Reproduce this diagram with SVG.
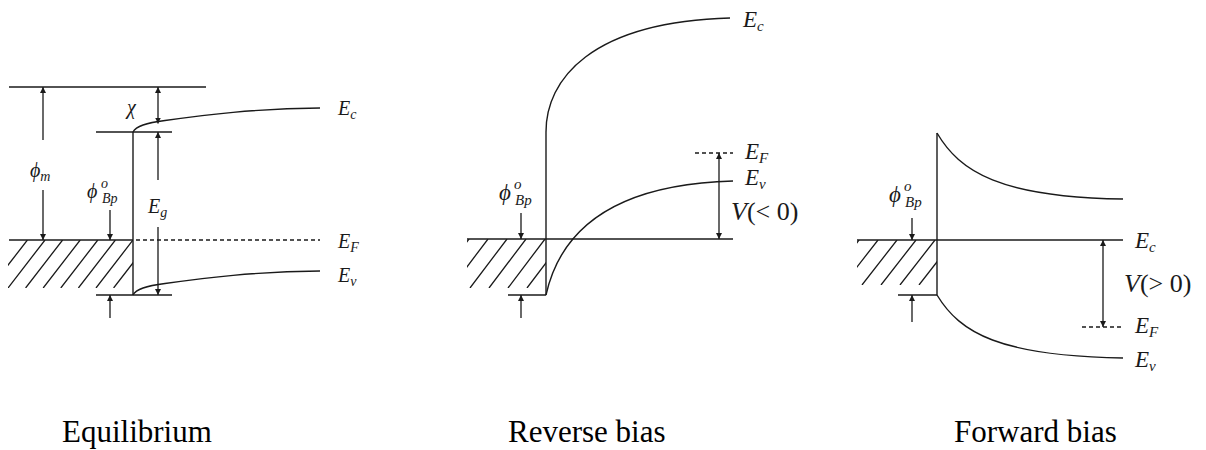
<svg xmlns="http://www.w3.org/2000/svg" width="1206" height="450" viewBox="0 0 1206 450">
<style>
.ln{stroke:#1a1a1a;stroke-width:1.4;fill:none}
.ds{stroke:#1a1a1a;stroke-width:1.4;fill:none;stroke-dasharray:4 3}
.ht{stroke:#1a1a1a;stroke-width:1.3;fill:none}
.ar{stroke:#1a1a1a;stroke-width:1.3;fill:none;marker-end:url(#ah)}
.ar2{stroke:#1a1a1a;stroke-width:1.3;fill:none;marker-end:url(#ah);marker-start:url(#ah)}
.m{font-family:"Liberation Serif","DejaVu Serif",serif;font-style:italic;fill:#1a1a1a;font-size:20px}
.s{font-family:"Liberation Serif","DejaVu Serif",serif;font-style:italic;fill:#1a1a1a;font-size:14px}
.m2{font-family:"Liberation Serif","DejaVu Serif",serif;font-style:italic;fill:#1a1a1a;font-size:23px}
.s2{font-family:"Liberation Serif","DejaVu Serif",serif;font-style:italic;fill:#1a1a1a;font-size:15px}
.up{font-family:"Liberation Serif","DejaVu Serif",serif;fill:#1a1a1a;font-size:26px}
.cap{font-family:"Liberation Serif","Times New Roman",serif;fill:#000;font-size:31px}
</style>
<defs>
<marker id="ah" markerUnits="userSpaceOnUse" markerWidth="8" markerHeight="8" refX="6" refY="3" orient="auto-start-reverse">
<path d="M0,0 L6,3 L0,6 z" fill="#1a1a1a"/>
</marker>
<clipPath id="c1"><rect x="8" y="240" width="125" height="48"/></clipPath>
<clipPath id="c2"><rect x="467" y="239" width="79" height="49"/></clipPath>
<clipPath id="c3"><rect x="857" y="240" width="80" height="45"/></clipPath>
</defs>
<rect width="1206" height="450" fill="#fff"/>

<g id="equilibrium">
<line class="ln" x1="9" y1="87" x2="206" y2="87"/>
<line class="ln" x1="96" y1="132" x2="172" y2="132"/>
<line class="ln" x1="96" y1="295" x2="172" y2="295"/>
<line class="ln" x1="133" y1="132" x2="133" y2="295"/>
<line class="ln" x1="9" y1="240" x2="133" y2="240"/>
<line class="ds" x1="136" y1="240" x2="320" y2="240"/>
<path class="ln" d="M133,132 C136,126 146,123 165,120.5 C205,115 255,108.5 320,108"/>
<path class="ln" d="M133,295 C136,289 146,286 165,283.5 C205,278 255,271.5 320,271"/>
<g clip-path="url(#c1)">
<path class="ht" d="M150.6,240 l-37,48 M133,240 l-37,48 M115.4,240 l-37,48 M97.8,240 l-37,48 M80.2,240 l-37,48 M62.6,240 l-37,48 M45,240 l-37,48 M27.4,240 l-37,48"/>
</g>
<text class="m" x="338" y="115">E<tspan class="s" dy="4">c</tspan></text>
<text class="m" x="338" y="248">E<tspan class="s" dy="4">F</tspan></text>
<text class="m" x="338" y="282">E<tspan class="s" dy="4">v</tspan></text>
<text class="m" x="127" y="114">χ</text>
<text class="m" x="30" y="177">ϕ<tspan class="s" dy="4">m</tspan></text>
<text class="m" x="87" y="198">ϕ</text>
<text class="s" x="101" y="188">o</text>
<text class="s" x="102" y="203">Bp</text>
<text class="m" x="148" y="213">E<tspan class="s" dy="4">g</tspan></text>
</g>

<g id="reverse-bias">
<line class="ln" x1="546" y1="132" x2="546" y2="295"/>
<line class="ln" x1="508" y1="295" x2="546" y2="295"/>
<line class="ln" x1="467" y1="239" x2="733" y2="239"/>
<line class="ds" x1="695" y1="153" x2="733" y2="153"/>
<path class="ln" d="M546,132 C546,80 590,22 730,18"/>
<path class="ln" d="M546,295 C556,250 590,185 733,181"/>
<g clip-path="url(#c2)">
<path class="ht" d="M564,239 l-37,49 M545,239 l-37,49 M526,239 l-37,49 M507,239 l-37,49 M488,239 l-37,49 M469,239 l-37,49"/>
</g>
<text class="m2" x="743" y="27">E<tspan class="s2" dy="4">c</tspan></text>
<text class="m2" x="745" y="159">E<tspan class="s2" dy="4">F</tspan></text>
<text class="m2" x="745" y="185">E<tspan class="s2" dy="4">v</tspan></text>
<text class="up" x="731" y="220"><tspan font-style="italic">V</tspan>(&lt; 0)</text>
<text class="m2" x="499" y="200">ϕ</text>
<text class="s2" x="514" y="189">o</text>
<text class="s2" x="515" y="205">Bp</text>
</g>

<g id="forward-bias">
<line class="ln" x1="937" y1="133" x2="937" y2="295"/>
<line class="ln" x1="898" y1="295" x2="937" y2="295"/>
<line class="ln" x1="857" y1="240" x2="1123" y2="240"/>
<line class="ds" x1="1082" y1="327" x2="1123" y2="327"/>
<path class="ln" d="M937,133 C960,172 1000,197 1123,199"/>
<path class="ln" d="M937,295 C960,333 1000,356 1123,358"/>
<g clip-path="url(#c3)">
<path class="ht" d="M954,240 l-35,45 M935,240 l-35,45 M916,240 l-35,45 M897,240 l-35,45 M878,240 l-35,45 M859,240 l-35,45"/>
</g>
<text class="m2" x="1135" y="248">E<tspan class="s2" dy="4">c</tspan></text>
<text class="up" x="1124" y="292"><tspan font-style="italic">V</tspan>(&gt; 0)</text>
<text class="m2" x="1135" y="333">E<tspan class="s2" dy="4">F</tspan></text>
<text class="m2" x="1135" y="367">E<tspan class="s2" dy="4">v</tspan></text>
<text class="m2" x="889" y="202">ϕ</text>
<text class="s2" x="904" y="191">o</text>
<text class="s2" x="905" y="207">Bp</text>
</g>

<g id="connectors">
<line class="ar" x1="43" y1="140" x2="43" y2="87"/>
<line class="ar" x1="43" y1="190" x2="43" y2="240"/>
<line class="ar2" x1="158" y1="87" x2="158" y2="123.5"/>
<line class="ar" x1="158" y1="180" x2="158" y2="132"/>
<line class="ar" x1="158" y1="227" x2="158" y2="295"/>
<line class="ar" x1="110" y1="210" x2="110" y2="240"/>
<line class="ar" x1="110" y1="318" x2="110" y2="295"/>
<line class="ar2" x1="719" y1="153" x2="719" y2="239"/>
<line class="ar" x1="521" y1="213" x2="521" y2="239"/>
<line class="ar" x1="521" y1="318" x2="521" y2="295"/>
<line class="ar2" x1="1103" y1="240" x2="1103" y2="327" stroke-width="2"/>
<line class="ar" x1="912" y1="218" x2="912" y2="240"/>
<line class="ar" x1="912" y1="322" x2="912" y2="295"/>
</g>

<g id="captions">
<text class="cap" x="62" y="442">Equilibrium</text>
<text class="cap" x="508" y="442">Reverse bias</text>
<text class="cap" x="954" y="442">Forward bias</text>
</g>
</svg>
